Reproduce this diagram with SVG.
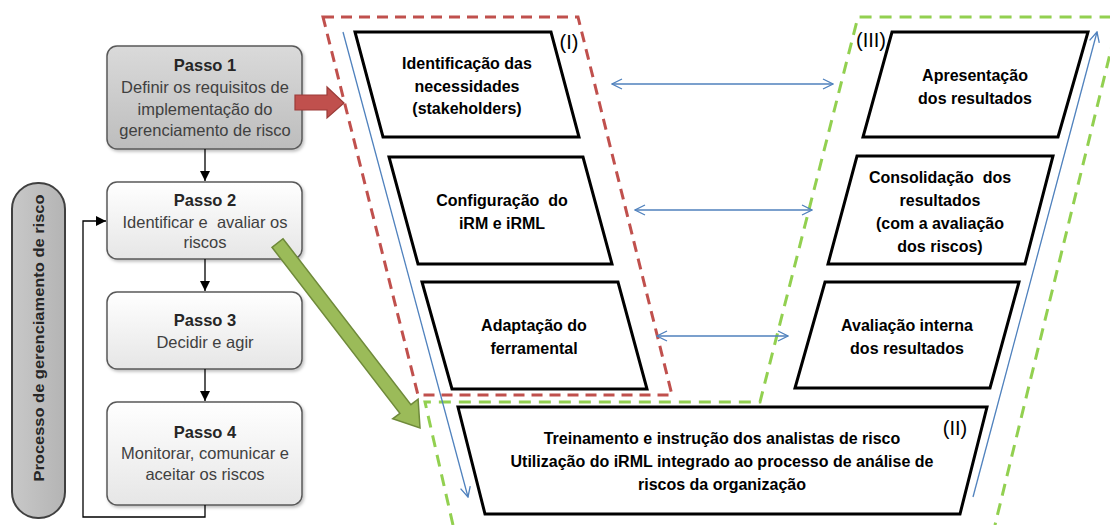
<svg xmlns="http://www.w3.org/2000/svg" width="1110" height="525" viewBox="0 0 1110 525">
<defs>
<linearGradient id="gGray" x1="0" y1="0" x2="0" y2="1"><stop offset="0" stop-color="#dadada"/><stop offset="1" stop-color="#bdbdbd"/></linearGradient>
<linearGradient id="gWhite" x1="0" y1="0" x2="0" y2="1"><stop offset="0" stop-color="#ffffff"/><stop offset="1" stop-color="#e6e6e6"/></linearGradient>
<linearGradient id="gPill" x1="0" y1="0" x2="1" y2="0"><stop offset="0" stop-color="#c8c8c8"/><stop offset="1" stop-color="#b4b4b4"/></linearGradient>
<filter id="sh" x="-10%" y="-10%" width="125%" height="130%"><feDropShadow dx="1.5" dy="2" stdDeviation="1.5" flood-color="#000" flood-opacity="0.25"/></filter>
<marker id="blk" viewBox="0 0 10 10" refX="10" refY="5" markerWidth="10" markerHeight="10" markerUnits="userSpaceOnUse" orient="auto"><path d="M0,0 L10,5 L0,10 Z" fill="#000"/></marker>
<marker id="blu" viewBox="0 0 12 12" refX="11" refY="6" markerWidth="12" markerHeight="12" markerUnits="userSpaceOnUse" orient="auto-start-reverse"><path d="M1,1 L11,6 L1,11" fill="none" stroke="#4f81bd" stroke-width="1.3"/></marker>
</defs>
<style>
.step{stroke:#595959;stroke-width:1.5;filter:url(#sh)}
.t{font-family:"Liberation Sans",Arial,sans-serif;text-anchor:middle}
.reg{font-size:16.5px;fill:#404040}
.bt{font-size:16.5px;font-weight:bold;fill:#262626}
.pb{font-size:16px;font-weight:bold;fill:#000}
.lab{font-size:20px;fill:#000}
.par{fill:#fff;stroke:#000;stroke-width:3;stroke-linejoin:miter}
.con{stroke:#000;stroke-width:1.3;fill:none}
.blue{stroke:#4f81bd;stroke-width:1.3;fill:none}
.reddash{fill:none;stroke:#c0504d;stroke-width:3;stroke-dasharray:11 7}
.greendash{fill:none;stroke:#92d050;stroke-width:3;stroke-dasharray:12 8}
</style>

<g id="frames">
<polygon class="reddash" points="323,17 578,17 672,395 418,395"/>
<polyline class="greendash" points="453,525 425,402 760,402 858,17 1119,17 995,525"/>
</g>

<g id="pill">
<rect x="12" y="183" width="53" height="335" rx="26" fill="url(#gPill)" stroke="#404040" stroke-width="2"/>
<text class="t" transform="translate(44,338) rotate(-90)" style="font-size:15.5px;font-weight:bold;fill:#262626" textLength="287" lengthAdjust="spacingAndGlyphs">Processo de gerenciamento de risco</text>
</g>

<g id="passo1">
<rect class="step" x="107" y="46" width="195" height="103" rx="10" fill="url(#gGray)"/>
<text class="t bt" x="205" y="71">Passo 1</text>
<text class="t reg" x="205" y="93">Definir os requisitos de</text>
<text class="t reg" x="205" y="114.5">implementação do</text>
<text class="t reg" x="205" y="136">gerenciamento de risco</text>
</g>
<g id="passo2">
<rect class="step" x="107" y="182" width="195" height="77" rx="10" fill="url(#gWhite)"/>
<text class="t bt" x="205" y="206">Passo 2</text>
<text class="t reg" x="205" y="228" xml:space="preserve">Identificar e  avaliar os</text>
<text class="t reg" x="205" y="248">riscos</text>
</g>
<g id="passo3">
<rect class="step" x="107" y="292" width="195" height="77" rx="10" fill="url(#gWhite)"/>
<text class="t bt" x="205" y="326">Passo 3</text>
<text class="t reg" x="205" y="348">Decidir e agir</text>
</g>
<g id="passo4">
<rect class="step" x="107" y="402" width="195" height="103" rx="10" fill="url(#gWhite)"/>
<text class="t bt" x="205" y="438">Passo 4</text>
<text class="t reg" x="205" y="459">Monitorar, comunicar e</text>
<text class="t reg" x="205" y="480">aceitar os riscos</text>
</g>

<g id="left1">
<polygon class="par" points="355,32 551,32 579,137 383,137"/>
<text class="t pb" x="467" y="69">Identificação das</text>
<text class="t pb" x="467" y="92">necessidades</text>
<text class="t pb" x="467" y="114">(stakeholders)</text>
<text class="t lab" x="569" y="49">(I)</text>
</g>
<g id="left2">
<polygon class="par" points="389,157 583,157 612,264 418,264"/>
<text class="t pb" x="502" y="206" xml:space="preserve">Configuração  do</text>
<text class="t pb" x="502" y="229">iRM e iRML</text>
</g>
<g id="left3">
<polygon class="par" points="422,282 618,282 647,389 452,389"/>
<text class="t pb" x="534" y="331">Adaptação do</text>
<text class="t pb" x="534" y="354">ferramental</text>
</g>
<g id="right1">
<polygon class="par" points="892,32 1088,32 1058,137 863,137"/>
<text class="t pb" x="975" y="81">Apresentação</text>
<text class="t pb" x="975" y="104">dos resultados</text>
<text class="t lab" x="871" y="47">(III)</text>
</g>
<g id="right2">
<polygon class="par" points="857,156 1053,156 1025,264 828,264"/>
<text class="t pb" x="940" y="183" xml:space="preserve">Consolidação  dos</text>
<text class="t pb" x="940" y="206">resultados</text>
<text class="t pb" x="940" y="229">(com a avaliação</text>
<text class="t pb" x="940" y="252">dos riscos)</text>
</g>
<g id="right3">
<polygon class="par" points="825,282 1019,282 990,388 795,388"/>
<text class="t pb" x="907" y="331">Avaliação interna</text>
<text class="t pb" x="907" y="354">dos resultados</text>
</g>
<g id="bottom">
<polygon class="par" points="458,407 987,407 960,514 485,514"/>
<text class="t pb" x="722" y="444">Treinamento e instrução dos analistas de risco</text>
<text class="t pb" x="722" y="467">Utilização do iRML integrado ao processo de análise de</text>
<text class="t pb" x="722" y="490">riscos da organização</text>
<text class="t lab" x="955" y="435">(II)</text>
</g>

<g id="connectors">
<line class="con" x1="205" y1="149" x2="205" y2="181" marker-end="url(#blk)"/>
<line class="con" x1="205" y1="259" x2="205" y2="291" marker-end="url(#blk)"/>
<line class="con" x1="205" y1="369" x2="205" y2="401" marker-end="url(#blk)"/>
<polyline class="con" points="205,505 205,517 83,517 83,221 106,221" marker-end="url(#blk)"/>
<polygon points="295,95 327,95 327,87 344,103 327,118 327,110 295,110" fill="#c0504d" stroke="#9b3b38" stroke-width="1.2"/>
<polygon points="283,238.7 410.9,404.7 418.1,399.2 420,428 392.7,418.8 399.9,413.3 272,247.3" fill="#9bbb59" stroke="#6f8a3a" stroke-width="1.5" stroke-linejoin="miter"/>
<line class="blue" x1="343" y1="32" x2="468" y2="497" marker-end="url(#blu)"/>
<line class="blue" x1="973" y1="497" x2="1097" y2="32" marker-end="url(#blu)"/>
<line class="blue" x1="612" y1="84" x2="833" y2="84" marker-start="url(#blu)" marker-end="url(#blu)"/>
<line class="blue" x1="635" y1="210" x2="812" y2="210" marker-start="url(#blu)" marker-end="url(#blu)"/>
<line class="blue" x1="657" y1="336" x2="788" y2="336" marker-start="url(#blu)" marker-end="url(#blu)"/>
</g>
</svg>
